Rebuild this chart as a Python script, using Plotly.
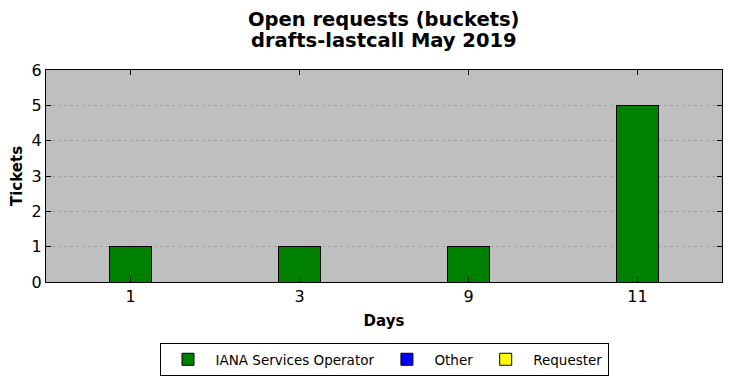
import plotly.graph_objects as go

days = ["1", "3", "9", "11"]
iana = [1, 1, 1, 5]
other = [0, 0, 0, 0]
requester = [0, 0, 0, 0]
title_lines = ["Open requests (buckets)", "drafts-lastcall May 2019"]

series = [
    ("IANA Services Operator", iana, "#008000"),
    ("Other", other, "#0000ff"),
    ("Requester", requester, "#ffff00"),
]

fig = go.Figure()
for name, vals, col in series:
    fig.add_trace(go.Bar(
        x=days, y=vals, name=name, width=0.25,
        marker=dict(color=col, line=dict(color="black", width=1)),
    ))

font = "DejaVu Sans"
W, H = 732, 378
L, R, T, B = 38, 18, 62, 104
ph = H - T - B

# two title lines, placed like the reference
for i, (txt, ypx) in enumerate(zip(title_lines, [11, 33])):
    fig.add_annotation(
        text=f"<b>{txt}</b>", xref="paper", yref="paper",
        x=0.5, y=1 + (T - ypx) / ph, xanchor="center", yanchor="middle",
        showarrow=False, font=dict(size=19.5, family=font, color="black"),
    )

fig.update_layout(
    width=W, height=H,
    margin=dict(l=L, r=R, t=T, b=B, autoexpand=False),
    barmode="stack",
    paper_bgcolor="white",
    plot_bgcolor="#bfbfbf",
    font=dict(family=font, color="black"),
    xaxis=dict(
        type="category", range=[-0.5, 3.5], automargin=False,
        showline=True, linecolor="black", linewidth=1, mirror="allticks",
        ticks="inside", ticklen=5, tickcolor="black",
        tickfont=dict(size=16), showgrid=False,
        title=dict(text="<b>Days</b>", font=dict(size=15), standoff=10),
    ),
    yaxis=dict(
        range=[0, 6], dtick=1, automargin=False,
        showline=True, linecolor="black", linewidth=1, mirror="allticks",
        ticks="inside", ticklen=5, tickcolor="black",
        tickfont=dict(size=16),
        showgrid=True, gridcolor="#a0a0a0", griddash="dot", gridwidth=1,
        zeroline=False,
        title=dict(text="<b>Tickets</b>", font=dict(size=15), standoff=7),
    ),
    legend=dict(
        orientation="h", x=0.5, xanchor="center", y=-61 / ph, yanchor="top",
        bordercolor="black", borderwidth=1, font=dict(size=13.5),
        traceorder="normal", itemwidth=45, tracegroupgap=0,
    ),
)

fig.write_html("out.html")
